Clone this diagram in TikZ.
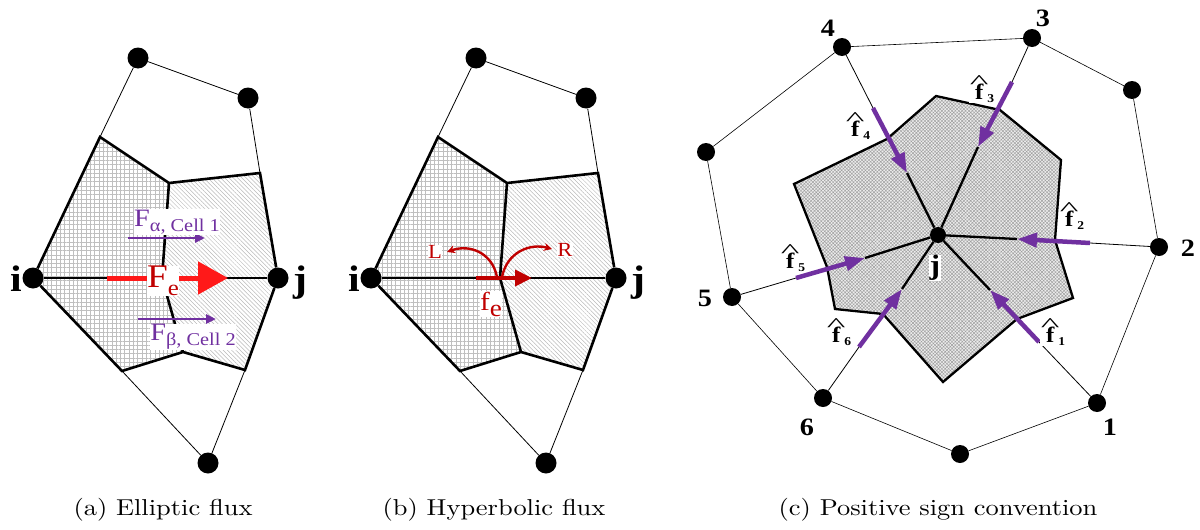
\documentclass[tikz,border=0pt]{standalone}
\usepackage{fontspec}
\usepackage{graphicx}
\newfontfamily\tms{Liberation Serif}
\newfontfamily\capfont{lmroman10-regular.otf}
\usetikzlibrary{arrows.meta,patterns.meta,calc}
\definecolor{fpurple}{RGB}{112,48,160}
\definecolor{dred}{RGB}{192,0,0}
\definecolor{bred}{RGB}{255,25,25}
\newcommand\wide[1]{\scalebox{1.13}[1]{#1}}
\newcommand\fh[1]{\wide{\tms\bfseries\fontsize{22}{22}\selectfont
  \ooalign{\hfil\raisebox{11pt}{\mdseries\scalebox{1.6}[0.9]{\char`\^}}\hfil\cr\hfil f\hfil\cr}%
  \hspace{-1pt}\raisebox{-3pt}{\fontsize{12}{12}\selectfont #1}}}
\tikzset{
  dot/.style={circle,fill=black,inner sep=0pt,minimum size=21pt},
  sdot/.style={circle,fill=black,inner sep=0pt,minimum size=18pt},
  thinl/.style={line width=0.8pt,black},
  thickl/.style={line width=2.6pt,black},
  ijlbl/.style={font=\tms\bfseries\fontsize{37}{37}\selectfont,inner sep=0pt},
  numlbl/.style={font=\tms\bfseries\fontsize{25}{25}\selectfont,inner sep=0pt},
  hatlbl/.style={inner sep=0.5pt,fill=white},
  caplbl/.style={font=\capfont\fontsize{23}{26}\selectfont,inner sep=0pt},
  parrow/.style={fpurple,line width=2.5pt,-{Triangle[length=10pt,width=9pt]}},
  bigparrow/.style={fpurple,line width=4.5pt,-{Triangle[length=20pt,width=14pt]}},
}
\newcommand\cellpanel[1]{%
  \coordinate (#1A) at (100,137);
  \coordinate (#1B) at (169,183);
  \coordinate (#1C) at (260,173);
  \coordinate (#1M) at (162,278);
  \coordinate (#1D) at (183,352);
  \coordinate (#1E) at (245,370);
  \coordinate (#1F) at (122,371);
  \coordinate (#1pi) at (33,278);
  \coordinate (#1pj) at (278,278);
  \path[pattern={Hatch[angle=0,distance=4.3pt,line width=0.5pt]},pattern color=gray!50]
    (#1pi) -- (#1A) -- (#1B) -- (#1M) -- (#1D) -- (#1F) -- cycle;
  \path[pattern={Lines[angle=-45,distance=3pt,line width=0.5pt]},pattern color=gray!55]
    (#1B) -- (#1C) -- (#1pj) -- (#1E) -- (#1D) -- (#1M) -- cycle;
  \node[dot] (#1top) at (138,58) {};
  \node[dot] (#1rt) at (248,98) {};
  \node[dot] (#1i) at (#1pi) {};
  \node[dot] (#1j) at (#1pj) {};
  \node[dot] (#1bot) at (208,463) {};
  \draw[thinl] (#1top) -- (#1A) (#1top) -- (#1rt) -- (#1C) (#1F) -- (#1bot) -- (#1E);
  \draw[thickl] (#1i) -- (#1A) -- (#1B) -- (#1C) -- (#1j) -- (#1E) -- (#1D) -- (#1F) -- (#1i);
  \draw[thickl] (#1B) -- (#1M) -- (#1D);
  \draw[thickl] (#1i) -- (#1j);
  \node[ijlbl] (#1li) at (16,279) {\wide{i}};
  \node[ijlbl] (#1lj) at (300,283) {\wide{j}};
}
\begin{document}
\begin{tikzpicture}[x=1pt,y=-1pt]
\useasboundingbox (0,0) rectangle (1200,530);
% ---------------- panel (a)
\cellpanel{a}
\coordinate (aFs) at (107,278);
\coordinate (aFt) at (228,278);
\draw[bred,line width=5pt,-{Triangle[length=30pt,width=32pt]}] (aFs) -- (aFt);
\node[font=\tms\fontsize{33}{33}\selectfont,text=dred,fill=white,inner sep=0pt] (aFe) at (163,281)
  {\wide{F\raisebox{-8pt}{\fontsize{22}{22}\selectfont e}}};
\coordinate (aas) at (128,238);
\coordinate (aat) at (205,238);
\draw[parrow] (aas) -- (aat);
\node[font=\tms\fontsize{25}{25}\selectfont,text=fpurple,fill=white,inner sep=0.5pt] (aFa) at (177,222)
  {\wide{F\raisebox{-5pt}{\fontsize{18}{18}\selectfont α, Cell 1}}};
\coordinate (abs) at (138,319);
\coordinate (abt) at (216,319);
\draw[parrow] (abs) -- (abt);
\node[font=\tms\fontsize{25}{25}\selectfont,text=fpurple,fill=white,inner sep=0.5pt] (aFb) at (193,337)
  {\wide{F\raisebox{-5pt}{\fontsize{18}{18}\selectfont β, Cell 2}}};
% ---------------- panel (b)
\begin{scope}[xshift=338pt]
\cellpanel{b}
\coordinate (bfs) at (138,278);
\coordinate (bft) at (194,278);
\coordinate (bLs) at (159,277);
\coordinate (bLt) at (109,252);
\coordinate (bRs) at (164,277);
\coordinate (bRt) at (214,249);
\end{scope}
\draw[dred,line width=4pt,-{Triangle[length=17pt,width=16pt]}] (bfs) -- (bft);
\draw[dred,line width=2.4pt,-{Stealth[length=8pt,width=8pt]}] (bLs) .. controls ($(bLs)+(-5,-25)$) and ($(bLt)+(22,-8)$) .. (bLt);
\draw[dred,line width=2.4pt,-{Stealth[length=8pt,width=8pt]}] (bRs) .. controls ($(bRs)+(5,-25)$) and ($(bRt)+(-22,-6)$) .. (bRt);
\node[font=\tms\fontsize{26}{26}\selectfont,text=dred,fill=white,inner sep=0.5pt] (bfe) at (491,304)
  {\wide{f\raisebox{-6pt}{\fontsize{24}{24}\selectfont e}}};
\node[font=\tms\fontsize{20}{20}\selectfont,text=dred,fill=white,inner sep=0.5pt] (bL) at (435,252) {\wide{L}};
\node[font=\tms\fontsize{20}{20}\selectfont,text=dred,fill=white,inner sep=0.5pt] (bR) at (565,250) {\wide{R}};
% ---------------- panel (c)
\coordinate (p1) at (936,96);
\coordinate (p2) at (1000,110);
\coordinate (p3) at (1061,160);
\coordinate (p4) at (1055,240);
\coordinate (p5) at (1073,298);
\coordinate (p6) at (1017,319);
\coordinate (p7) at (943,382);
\coordinate (p8) at (883,314);
\coordinate (p9) at (835,309);
\coordinate (p10) at (827,267);
\coordinate (p11) at (794,184);
\coordinate (p12) at (887,139);
\path[fill=gray!14] (p1)--(p2)--(p3)--(p4)--(p5)--(p6)--(p7)--(p8)--(p9)--(p10)--(p11)--(p12)--cycle;
\path[pattern={Hatch[angle=45,distance=2.4pt,line width=0.45pt]},pattern color=gray!75]
  (p1)--(p2)--(p3)--(p4)--(p5)--(p6)--(p7)--(p8)--(p9)--(p10)--(p11)--(p12)--cycle;
\draw[thickl,line width=2.3pt] (p1)--(p2)--(p3)--(p4)--(p5)--(p6)--(p7)--(p8)--(p9)--(p10)--(p11)--(p12)--cycle;
\node[sdot] (c4) at (842,47) {};
\node[sdot] (c3) at (1032,38) {};
\node[sdot] (cr) at (1132,90) {};
\node[sdot] (c2) at (1159,247) {};
\node[sdot] (c1) at (1097,403) {};
\node[sdot] (cb) at (960,454) {};
\node[sdot] (c6) at (823,398) {};
\node[sdot] (c5) at (732,297) {};
\node[sdot] (cl) at (706,152) {};
\node[circle,fill=black,inner sep=0pt,minimum size=16pt] (cj) at (938,235) {};
\draw[thinl,line width=0.6pt] (c4)--(c3)--(cr)--(c2)--(c1)--(cb)--(c6)--(c5)--(cl)--(c4);
% spokes
\coordinate (s4) at (873,108); \coordinate (t4) at (907,173);
\coordinate (s3) at (1012,82); \coordinate (t3) at (978,147);
\coordinate (s2) at (1090,243); \coordinate (t2) at (1017,239);
\coordinate (s1) at (1039,342); \coordinate (t1) at (990,290);
\coordinate (s6) at (859,347); \coordinate (t6) at (902,289);
\coordinate (s5) at (796,278); \coordinate (t5) at (865,258);
\foreach \k in {1,...,6}{
  \draw[thinl] (c\k) -- (s\k);
  \draw[thickl,line width=2.3pt] (cj) -- (t\k);
  \draw[bigparrow] (s\k) -- (t\k);
}
\node[hatlbl] (h4) at (858,126) {\fh{4}};
\node[hatlbl] (h3) at (982,89) {\fh{3}};
\node[hatlbl] (h2) at (1072,216) {\fh{2}};
\node[hatlbl] (h1) at (1053,332) {\fh{1}};
\node[hatlbl] (h6) at (839,332) {\fh{6}};
\node[hatlbl] (h5) at (793,258) {\fh{5}};
\node[font=\tms\bfseries\fontsize{28}{28}\selectfont,fill=white,inner sep=0.5pt] (lj) at (935,268) {\wide{j}};
\node[numlbl] (l4) at (828,28) {\wide{4}};
\node[numlbl] (l3) at (1043,18) {\wide{3}};
\node[numlbl] (l2) at (1188,248) {\wide{2}};
\node[numlbl] (l1) at (1110,427) {\wide{1}};
\node[numlbl] (l6) at (807,427) {\wide{6}};
\node[numlbl] (l5) at (705,298) {\wide{5}};
% captions
\node[caplbl] (capa) at (163,510) {\scalebox{1.15}[1]{(a) Elliptic flux}};
\node[caplbl] (capb) at (494,510) {\scalebox{1.15}[1]{(b) Hyperbolic flux}};
\node[caplbl] (capc) at (938,510) {\scalebox{1.15}[1]{(c) Positive sign convention}};
\end{tikzpicture}
\end{document}
